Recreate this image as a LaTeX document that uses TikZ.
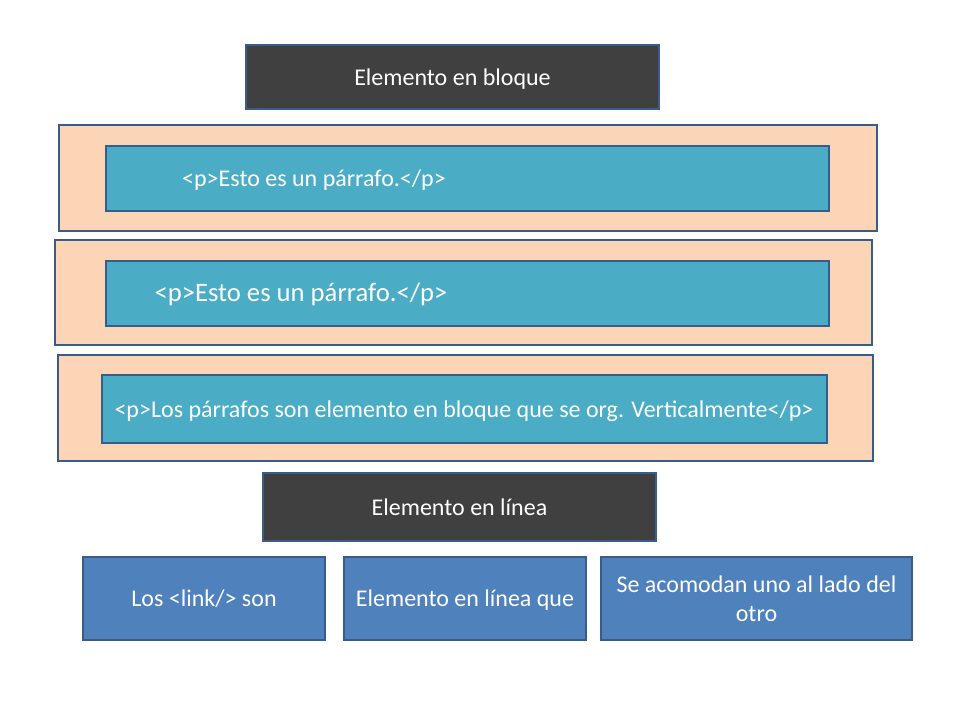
\documentclass[tikz,border=0pt]{standalone}
\usepackage{fontspec}
\setmainfont{Carlito}
\usetikzlibrary{positioning}
\definecolor{oscuro}{HTML}{404040}
\definecolor{borde}{HTML}{385D8A}
\definecolor{durazno}{HTML}{FBD5B5}
\definecolor{cian}{HTML}{4BACC6}
\definecolor{azul}{HTML}{4F81BD}
\newdimen\px \px=0.75pt
\tikzset{
    caja/.style={rectangle,draw=borde,line width=1.5pt,inner sep=0pt},
    titulo/.style={caja,fill=oscuro},
    fondo/.style={caja,fill=durazno},
    parrafo/.style={caja,fill=cian},
    enlinea/.style={caja,fill=azul},
    texto/.style={text=white,font=\fontsize{18}{22}\selectfont,align=center},
    unalinea/.style={text height=0.72em,text depth=0.22em}
}
\begin{document}
\begin{tikzpicture}[x=0.75pt,y=-0.75pt]
\useasboundingbox (0,0) rectangle (960,720);
% bloques
\node[titulo,minimum width=413\px,minimum height=64\px] (blq) at (452.5,77) {};
\node[fondo,minimum width=818\px,minimum height=106\px] (fA) at (468,178) {};
\node[fondo,minimum width=817\px,minimum height=105\px] (fB) at (463.5,292.5) {};
\node[fondo,minimum width=815\px,minimum height=106\px] (fC) at (465.5,408) {};
\node[parrafo,minimum width=723\px,minimum height=65\px] (pA) at (467.5,178.5) {};
\node[parrafo,minimum width=723\px,minimum height=65\px] (pB) at (467.5,293.5) {};
\node[parrafo,minimum width=725\px,minimum height=68\px] (pC) at (464.5,409) {};
% en linea
\node[titulo,minimum width=393\px,minimum height=68\px] (lin) at (459.5,507) {};
\node[enlinea,minimum width=242\px,minimum height=83\px] (lA) at (204,598.5) {};
\node[enlinea,minimum width=242\px,minimum height=83\px] (lB) at (465,598.5) {};
\node[enlinea,minimum width=311\px,minimum height=83\px] (lC) at (756.5,598.5) {};
% textos
\begin{scope}[every node/.style={texto}]
    \node[unalinea] (tBlq) at (452.5,82) {Elemento en bloque};
    \node[unalinea] (tA) at (314,183) {<p>Esto es un párrafo.</p>};
    \node[unalinea,font=\fontsize{20}{24}\selectfont] (tB) at (301,298.5) {<p>Esto es un párrafo.</p>};
    \node[unalinea] (tC) at (464,414) {<p>Los párrafos son elemento en bloque que se org. Verticalmente</p>};
    \node[unalinea] (tLin) at (459.5,512) {Elemento en línea};
    \node[unalinea] (tlA) at (204,603) {Los <link/> son};
    \node[unalinea] (tlB) at (465,603) {Elemento en línea que};
    \node (tlC) at (756.5,598.5) {Se acomodan uno al lado del\\otro};
\end{scope}
\end{tikzpicture}
\end{document}
